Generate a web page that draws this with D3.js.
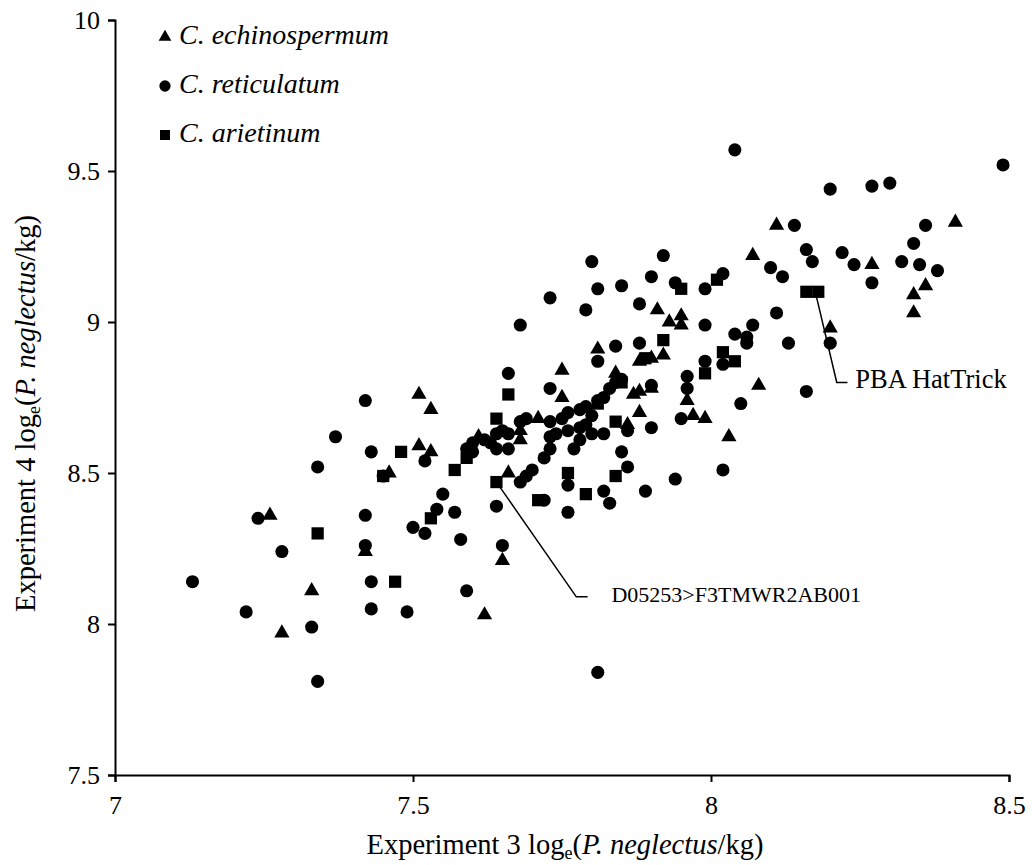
<!DOCTYPE html>
<meta charset="utf-8">
<html>
  <head>
    <title>Experiment 3 vs Experiment 4</title>
    <style>
      body { margin: 0; background: #fff; }
      svg text { font-family: "Liberation Serif", "Times New Roman", Times, serif !important; fill: #000; }
    </style>
  </head>
  <body>
    <div id="scatter"></div>
    <script src="https://d3js.org/d3.v7.min.js"></script>
    <script>

      // values: [Experiment 3, Experiment 4]
      const echinospermum = [
        [7.26,8.36],[7.28,7.97],[7.33,8.11],[7.42,8.24],[7.46,8.50],[7.51,8.76],[7.53,8.71],[7.51,8.59],
        [7.53,8.57],[7.62,8.03],[7.65,8.21],[7.66,8.50],[7.61,8.62],[7.68,8.61],[7.68,8.64],[7.71,8.68],
        [7.75,8.84],[7.75,8.75],[7.84,8.83],[7.87,8.76],[7.88,8.77],[7.90,8.78],[7.86,8.66],[7.88,8.70],
        [7.81,8.91],[7.88,8.87],[7.90,8.88],[7.92,8.89],[7.91,9.04],[7.95,9.02],[7.93,9.00],[7.95,8.99],
        [7.96,8.74],[7.97,8.69],[7.99,8.68],[8.03,8.62],[8.08,8.79],[8.07,9.22],[8.11,9.32],[8.20,8.98],
        [8.27,9.19],[8.36,9.12],[8.34,9.09],[8.34,9.03],[8.41,9.33]
      ];

      const reticulatum = [
        [7.13,8.14],[7.22,8.04],[7.24,8.35],[7.28,8.24],[7.33,7.99],[7.34,7.81],[7.34,8.52],[7.37,8.62],
        [7.42,8.74],[7.43,8.57],[7.42,8.36],[7.42,8.26],[7.43,8.14],[7.43,8.05],[7.45,8.49],[7.49,8.04],
        [7.50,8.32],[7.52,8.30],[7.52,8.54],[7.54,8.38],[7.55,8.43],[7.57,8.37],[7.58,8.28],[7.59,8.11],
        [7.64,8.39],[7.65,8.26],[7.66,8.58],[7.66,8.83],[7.68,8.47],[7.69,8.49],[7.70,8.51],[7.72,8.41],
        [7.76,8.46],[7.76,8.37],[7.82,8.44],[7.83,8.40],[7.85,8.57],[7.86,8.52],[7.89,8.44],[7.94,8.48],
        [7.81,7.84],[7.73,8.78],[7.68,8.67],[7.69,8.68],[7.73,8.67],[7.73,8.62],[7.74,8.63],[7.76,8.64],
        [7.78,8.65],[7.79,8.66],[7.80,8.69],[7.80,8.63],[7.82,8.63],[7.78,8.61],[7.77,8.58],[7.73,8.58],
        [7.72,8.55],[7.75,8.68],[7.76,8.70],[7.78,8.71],[7.79,8.72],[7.81,8.74],[7.82,8.75],[7.83,8.78],
        [7.84,8.80],[7.85,8.81],[7.59,8.58],[7.60,8.60],[7.62,8.61],[7.64,8.63],[7.65,8.64],[7.60,8.57],
        [7.64,8.58],[7.63,8.60],[7.66,8.63],[7.80,9.20],[7.73,9.08],[7.81,9.11],[7.79,9.04],[7.68,8.99],
        [7.81,8.87],[7.92,9.22],[8.10,9.18],[7.90,9.15],[8.02,9.16],[7.94,9.13],[7.99,9.11],[8.12,9.15],
        [7.85,9.12],[7.88,9.06],[7.99,8.99],[8.04,8.96],[8.07,8.99],[8.06,8.95],[8.06,8.93],[8.11,9.03],
        [7.84,8.92],[7.88,8.93],[8.02,8.86],[7.99,8.87],[7.96,8.82],[7.96,8.78],[8.05,8.73],[7.95,8.68],
        [7.90,8.65],[7.86,8.64],[7.90,8.79],[8.04,9.57],[8.49,9.52],[8.20,9.44],[8.27,9.45],[8.30,9.46],
        [8.14,9.32],[8.36,9.32],[8.34,9.26],[8.16,9.24],[8.22,9.23],[8.17,9.20],[8.24,9.19],[8.27,9.13],
        [8.32,9.20],[8.35,9.19],[8.38,9.17],[8.20,8.93],[8.13,8.93],[8.16,8.77],[8.02,8.51]
      ];

      const arietinum = [
        [7.34,8.30],[7.45,8.49],[7.48,8.57],[7.47,8.14],[7.53,8.35],[7.57,8.51],[7.59,8.55],[7.64,8.68],
        [7.66,8.76],[7.64,8.47],[7.71,8.41],[7.76,8.50],[7.79,8.43],[7.84,8.49],[7.84,8.67],[7.85,8.80],
        [7.81,8.73],[7.92,8.94],[7.89,8.88],[7.95,9.11],[8.01,9.14],[8.02,8.90],[8.04,8.87],[7.99,8.83],
        [8.16,9.10],[8.18,9.10]
      ];

      const xTicks = [7, 7.5, 8, 8.5];
      const yTicks = [7.5, 8, 8.5, 9, 9.5, 10];

      // labelled genotypes: point, elbow of the leader line, label text
      const callouts = [
        {name: "D05253>F3TMWR2AB001", point: [7.64, 8.47], elbow: [7.774, 8.09], end: 7.793, text: 7.833, size: 22},
        {name: "PBA HatTrick", point: [8.175, 9.10], elbow: [8.211, 8.80], end: 8.229, text: 8.242, size: 26.5}
      ];

      const margin = {top: 20, right: 23, bottom: 90, left: 115},
          width = 1032 - margin.left - margin.right,
          height = 865 - margin.top - margin.bottom;

      const svg = d3.select("#scatter")
        .append("svg")
          .attr("width", width + margin.left + margin.right)
          .attr("height", height + margin.top + margin.bottom)
        .append("g")
          .attr("transform", `translate(${margin.left}, ${margin.top})`);

      const x = d3.scaleLinear().domain([7, 8.5]).range([0, width]);
      const y = d3.scaleLinear().domain([7.5, 10]).range([height, 0]);

      // axes
      const xAxis = svg.append("g")
        .attr("transform", `translate(0, ${height})`)
        .call(d3.axisBottom(x).tickValues(xTicks).tickFormat(d => d).tickSizeOuter(0).tickSize(7));
      const yAxis = svg.append("g")
        .call(d3.axisLeft(y).tickValues(yTicks).tickFormat(d => d).tickSizeOuter(0).tickSize(7));

      [xAxis, yAxis].forEach(a => {
        a.select(".domain").attr("stroke", "#000").attr("stroke-width", 2);
        a.selectAll(".tick line").attr("stroke", "#000").attr("stroke-width", 2);
        a.selectAll("text").attr("font-size", 26);
      });
      xAxis.selectAll("text").attr("dy", "1.1em");
      yAxis.selectAll("text").attr("x", -15);

      // markers
      const shapes = [
        {data: reticulatum, type: d3.symbolCircle, size: 135},
        {data: arietinum, type: d3.symbolSquare, size: 150},
        {data: echinospermum, type: d3.symbolTriangle, size: 100}
      ];

      shapes.forEach(s => {
        svg.append("g")
          .selectAll("path")
          .data(s.data)
          .join("path")
            .attr("transform", d => `translate(${x(d[0])}, ${y(d[1])})`)
            .attr("d", d3.symbol().type(s.type).size(s.size))
            .attr("fill", "#000");
      });

      // leader lines and labels
      const line = d3.line().x(d => x(d[0])).y(d => y(d[1]));
      callouts.forEach(c => {
        svg.append("path")
          .attr("d", line([c.point, c.elbow, [c.end, c.elbow[1]]]))
          .attr("fill", "none")
          .attr("stroke", "#000")
          .attr("stroke-width", 1.5);
        svg.append("text")
          .attr("x", x(c.text))
          .attr("y", y(c.elbow[1]))
          .attr("dominant-baseline", "middle")
          .attr("font-size", c.size)
          .text(c.name);
      });

      // legend
      const legend = [
        {label: "C. echinospermum", type: d3.symbolTriangle, size: 70},
        {label: "C. reticulatum", type: d3.symbolCircle, size: 100},
        {label: "C. arietinum", type: d3.symbolSquare, size: 100}
      ];
      legend.forEach((l, i) => {
        svg.append("path")
          .attr("transform", `translate(${50}, ${17 + i * 49})`)
          .attr("d", d3.symbol().type(l.type).size(l.size))
          .attr("fill", "#000");
        svg.append("text")
          .attr("x", 64)
          .attr("y", 18 + i * 49)
          .attr("dominant-baseline", "middle")
          .attr("font-size", 28)
          .attr("font-style", "italic")
          .text(l.label);
      });

      // axis titles
      const xTitle = svg.append("text")
        .attr("x", width / 2 + 3)
        .attr("y", height + 79)
        .attr("text-anchor", "middle")
        .attr("font-size", 28.5);
      xTitle.append("tspan").text("Experiment 3 log");
      xTitle.append("tspan").attr("font-size", 18).attr("dy", 5).text("e");
      xTitle.append("tspan").attr("dy", -5).text("(");
      xTitle.append("tspan").attr("font-style", "italic").text("P. neglectus");
      xTitle.append("tspan").text("/kg)");

      const yTitle = svg.append("text")
        .attr("transform", `translate(${-80}, ${height / 2 + 16}) rotate(-90)`)
        .attr("text-anchor", "middle")
        .attr("font-size", 28.5);
      yTitle.append("tspan").text("Experiment 4 log");
      yTitle.append("tspan").attr("font-size", 18).attr("dy", 5).text("e");
      yTitle.append("tspan").attr("dy", -5).text("(");
      yTitle.append("tspan").attr("font-style", "italic").text("P. neglectus");
      yTitle.append("tspan").text("/kg)");

    </script>
  </body>
</html>
